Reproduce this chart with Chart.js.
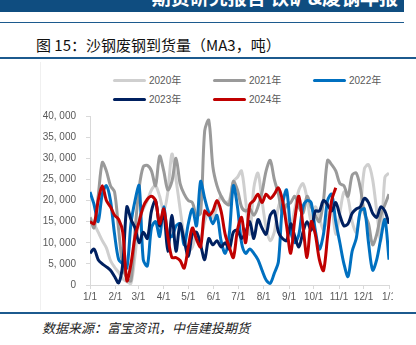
<!DOCTYPE html>
<html lang="zh">
<head>
  <meta charset="UTF-8" />
  <title>沙钢废钢到货量</title>
  <script src="https://cdn.jsdelivr.net/npm/chart.js"></script>
  <style>
    body {
      margin: 0;
      width: 416px;
      height: 345px;
      background: #fff;
      position: relative;
      overflow: hidden;
      font-family: "Liberation Sans", "Noto Sans CJK SC", sans-serif;
    }
    .topbar {
      position: absolute; left: 0; top: 0; width: 404px; height: 12px;
      background: #0f4d80; overflow: hidden;
    }
    .topbar span {
      position: absolute; right: 6px; top: -13px; color: #fff;
      font: bold 19px/20px "Noto Sans CJK SC"; white-space: nowrap;
    }
    .rule { position: absolute; left: 0; background: #1c5a8e; }
    .title {
      position: absolute; left: 36px; top: 35px; color: #111;
      font: 15px/20px "Noto Sans CJK SC"; white-space: nowrap;
    }
    .frame { position: absolute; left: 40px; top: 62px; width: 1px; height: 248px; background: #f0f0f0; }
    .legend-item {
      position: absolute; height: 12px; font-size: 10px; line-height: 12px;
      color: #595959; white-space: nowrap;
    }
    .legend-item i {
      display: inline-block; width: 33px; height: 3px; border-radius: 2px;
      vertical-align: middle; margin-right: 3px; position: relative; top: -1px;
    }
    .chartclip { position: absolute; left: 0; top: 100px; width: 393px; height: 205px; overflow: hidden; }
    .chartbox { position: absolute; left: 0; top: 0; width: 416px; height: 205px; }
    .source {
      position: absolute; left: 42px; top: 319px; color: #222;
      font: italic 13px/18px "Noto Sans CJK SC"; white-space: nowrap;
    }
  </style>
</head>
<body>
  <div class="topbar"><span>期货研究报告 铁矿&amp;废钢年报</span></div>
  <div class="rule" style="top:22px; width:404px; height:1px;"></div>
  <div class="title">图 15：沙钢废钢到货量（MA3，吨）</div>
  <div class="rule" style="top:57px; width:416px; height:2px;"></div>
  <div class="frame"></div>

  <div id="legend"></div>

  <div class="chartclip">
    <div class="chartbox"><canvas id="chart"></canvas></div>
  </div>

  <div class="rule" style="top:312px; width:416px; height:2px;"></div>
  <div class="source">数据来源：富宝资讯，中信建投期货</div>

  <script>
    // day of year, every 5 days
    const days = [0,5,10,15,20,25,30,35,40,45,50,55,60,65,70,75,80,85,90,95,
      100,105,110,115,120,125,130,135,140,145,150,155,160,165,170,175,180,185,190,195,
      200,205,210,215,220,225,230,235,240,245,250,255,260,265,270,275,280,285,290,295,
      300,305,310,315,320,325,330,335,340,345,350,355,360,365];

    const monthTicks = [0, 31, 59, 90, 120, 151, 181, 212, 243, 273, 304, 334, 365];
    const monthLabels = ["1/1","2/1","3/1","4/1","5/1","6/1","7/1","8/1","9/1","10/1","11/1","12/1","1/1"];

    const y2020 = [16000,14500,12500,10500,8800,5800,4200,3000,1500,800,
      400,7000,15500,18000,20000,22500,23500,21000,17500,22000,
      31000,25000,18000,11500,8000,9000,12000,11000,15000,17500,
      16000,18500,21000,19500,20000,24500,25500,27000,20000,12000,
      23000,26500,20000,13500,10500,12500,18500,20500,15500,14000,
      18000,22500,24000,20500,15000,18500,16000,13000,16000,18000,
      12000,17000,22000,20500,15000,12500,18000,27500,28500,25000,
      17500,10500,25500,26500];

    const y2021 = [16000,13500,21000,29000,27000,23500,22000,13000,4500,1500,
      1000,13000,23000,28000,28300,27000,23500,30500,27000,22500,
      24500,30000,24000,21500,20000,19500,16500,17000,36500,39000,
      28000,23500,21000,19500,19000,24500,22500,18500,17500,18000,
      16500,18500,22000,27000,29500,25000,21500,17000,19000,19500,
      21000,18500,17000,21000,18500,16500,15000,20000,29500,28500,
      27000,24000,23500,21000,26000,26500,23000,17000,14500,9500,
      12000,16500,19000,21500];

    const y2022 = [22000,19000,15000,21500,23500,20000,12000,6000,5000,4000,
      14500,20000,23500,6000,4500,13500,15000,11500,18500,12000,
      11500,14000,14500,9500,14500,18000,14000,24500,20500,17000,
      14500,16500,10500,7500,12000,23500,18500,10000,7500,8500,
      7500,6000,3500,1200,400,2800,5500,19000,22500,13000,
      10000,12000,18500,20000,19500,13000,8500,12000,20000,21500,
      15000,10000,5000,2000,8000,11000,17500,18000,10000,3500,
      6000,11000,15500,6000];

    const y2023 = [7500,8500,6000,5000,4300,3500,2000,500,5000,18500,
      15500,13500,10000,12500,11000,17500,20000,14000,17000,8000,
      16500,8000,14500,10500,6800,12000,12500,9500,6000,11000,
      9500,10500,9000,10000,8500,12500,13000,11000,12500,15000,
      11000,15500,13500,12000,16500,17500,12500,11000,10500,14500,
      11500,9000,12500,15000,13000,17500,17500,20000,19000,17500,
      19500,16500,14000,14500,17000,18000,18500,20500,19500,17000,
      16000,18500,17500,14500];

    const y2024 = [15000,14500,20000,23500,20000,18500,16500,15500,12500,1000,
      5000,11500,15000,18500,20300,21000,20000,14500,18000,11500,
      6500,6500,5800,4000,9000,13500,10800,9000,17500,16500,
      17500,20000,17500,12000,9000,6500,13000,16000,10000,19000,
      20000,21500,19500,21500,20500,21500,23000,20000,14000,7500,
      15500,21000,14000,6500,15000,12000,6000,3400,11500,20000,
      23000];

    const seriesNames = ["2020年", "2021年", "2022年", "2023年", "2024年"];
    const seriesValues = [y2020, y2021, y2022, y2023, y2024];
    const seriesColors = ["#cfcfcf", "#9a9a9a", "#0070c0", "#002060", "#c00000"];

    // html legend, two rows like the original
    const legendPos = [[113, 75], [213, 75], [313, 75], [113, 94], [213, 94]];
    const legend = document.getElementById("legend");
    seriesNames.forEach((name, i) => {
      const el = document.createElement("div");
      el.className = "legend-item";
      el.style.left = legendPos[i][0] + "px";
      el.style.top = legendPos[i][1] + "px";
      el.innerHTML = `<i style="background:${seriesColors[i]}"></i>${name}`;
      legend.appendChild(el);
    });

    const tickFont = { family: "Liberation Sans", size: 10 };

    new Chart(document.getElementById("chart"), {
      type: "line",
      data: {
        datasets: seriesNames.map((name, i) => ({
          label: name,
          data: seriesValues[i].map((v, j) => ({ x: days[j], y: v })),
          borderColor: seriesColors[i],
          borderWidth: 3,
          pointRadius: 0,
          tension: 0.3,
          fill: false,
          order: 4 - i
        }))
      },
      options: {
        responsive: true,
        maintainAspectRatio: false,
        animation: false,
        layout: { padding: { left: 0, right: 27, top: 11, bottom: 0 } },
        plugins: { legend: { display: false }, tooltip: { enabled: false } },
        scales: {
          x: {
            type: "linear",
            min: 0,
            max: 365,
            afterBuildTicks: s => { s.ticks = monthTicks.map(v => ({ value: v })); },
            afterFit: s => { s.height = 20; },
            ticks: {
              autoSkip: false,
              maxRotation: 0,
              color: "#595959",
              font: tickFont,
              padding: 2,
              callback: (v, i) => monthLabels[i]
            },
            grid: { drawOnChartArea: false, color: "#d9d9d9", tickLength: 4 },
            border: { color: "#d9d9d9" }
          },
          y: {
            min: 0,
            max: 40000,
            afterFit: s => { s.width = 90; },
            ticks: {
              stepSize: 5000,
              color: "#595959",
              font: tickFont,
              padding: 10,
              callback: v => v === 0 ? "0" : v.toLocaleString("en-US").replace(",", ", ")
            },
            grid: { drawOnChartArea: false, color: "#d9d9d9", tickLength: 4 },
            border: { color: "#d9d9d9" }
          }
        }
      }
    });
  </script>
</body>
</html>
